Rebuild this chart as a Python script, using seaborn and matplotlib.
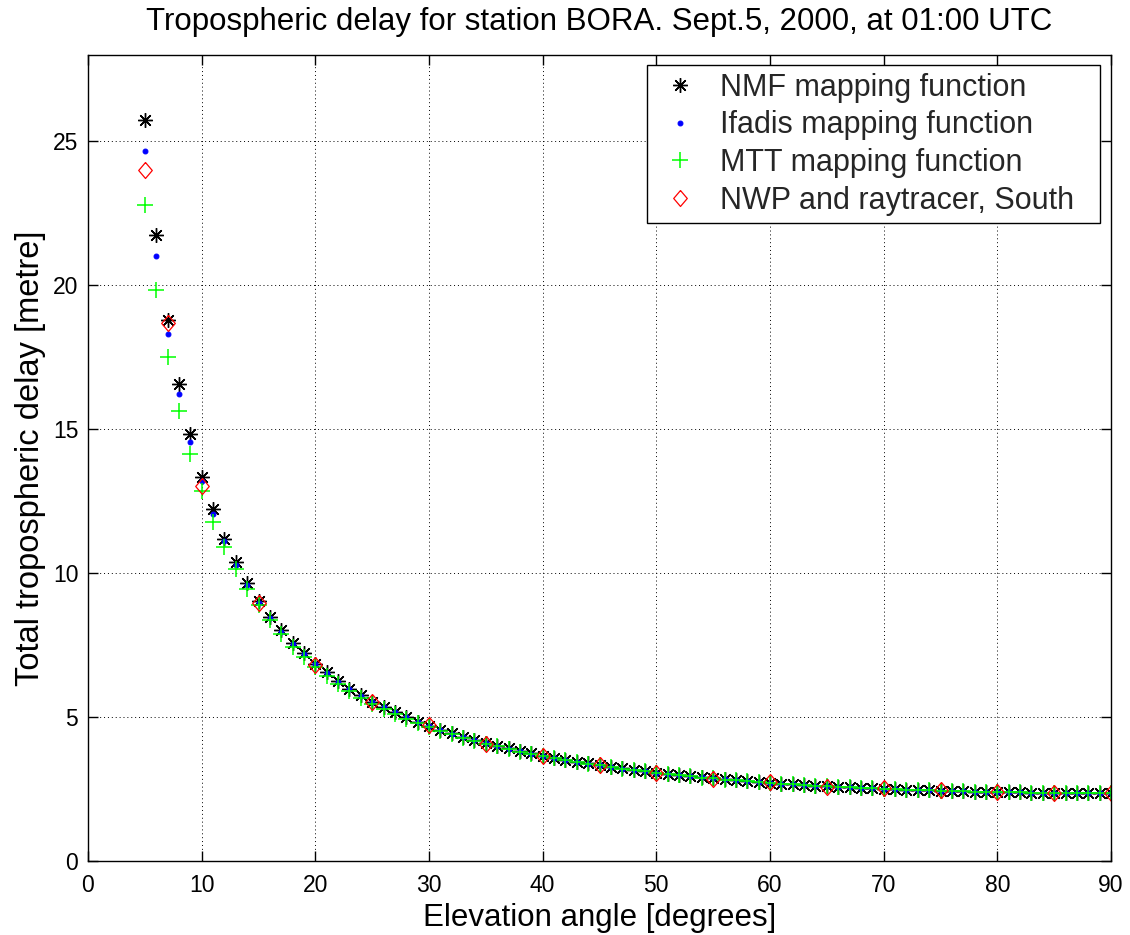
import matplotlib
matplotlib.use("Agg")
import matplotlib.pyplot as plt
import seaborn as sns
import pandas as pd

# ---------------- data ----------------
elevation = list(range(5, 91))

nmf_delay = [25.75, 21.74, 18.78, 16.56, 14.82, 13.34, 12.22, 11.19, 10.37, 9.66,
             9.03, 8.49, 8.01, 7.57, 7.21, 6.85, 6.55, 6.25, 5.99, 5.75,
             5.54, 5.35, 5.17, 5.00, 4.84, 4.70, 4.56, 4.43, 4.31, 4.20,
             4.10, 4.00, 3.91, 3.82, 3.74, 3.66, 3.59, 3.52, 3.45, 3.39,
             3.33, 3.27, 3.22, 3.17, 3.12, 3.07, 3.03, 2.99, 2.95, 2.91,
             2.87, 2.84, 2.81, 2.77, 2.75, 2.72, 2.69, 2.67, 2.64, 2.62,
             2.60, 2.58, 2.56, 2.54, 2.52, 2.51, 2.49, 2.48, 2.46, 2.45,
             2.44, 2.43, 2.42, 2.41, 2.40, 2.39, 2.38, 2.38, 2.37, 2.37,
             2.36, 2.36, 2.35, 2.35, 2.35, 2.35]

ifadis_delay = [24.65, 21.02, 18.32, 16.21, 14.54, 13.20, 12.06, 11.10, 10.30, 9.60,
                8.98, 8.45, 7.97, 7.54, 7.18, 6.83, 6.53, 6.23, 5.97, 5.74,
                5.53, 5.34, 5.16, 4.99, 4.83, 4.69, 4.55, 4.42, 4.30, 4.19,
                4.09, 3.99, 3.90, 3.81, 3.73, 3.65, 3.58, 3.51, 3.44, 3.38,
                3.32, 3.27, 3.21, 3.16, 3.11, 3.07, 3.02, 2.98, 2.94, 2.91,
                2.87, 2.84, 2.80, 2.77, 2.74, 2.72, 2.69, 2.66, 2.64, 2.62,
                2.60, 2.58, 2.56, 2.54, 2.52, 2.50, 2.49, 2.47, 2.46, 2.45,
                2.44, 2.43, 2.42, 2.41, 2.40, 2.39, 2.38, 2.38, 2.37, 2.37,
                2.36, 2.36, 2.35, 2.35, 2.35, 2.35]

mtt_delay = [22.78, 19.83, 17.51, 15.64, 14.14, 12.86, 11.77, 10.90, 10.15, 9.45,
             8.88, 8.36, 7.89, 7.43, 7.08, 6.73, 6.43, 6.15, 5.89, 5.66,
             5.45, 5.27, 5.10, 4.94, 4.79, 4.66, 4.52, 4.40, 4.28, 4.17,
             4.07, 3.98, 3.89, 3.80, 3.72, 3.64, 3.57, 3.50, 3.44, 3.37,
             3.32, 3.26, 3.21, 3.16, 3.11, 3.06, 3.02, 2.98, 2.94, 2.90,
             2.87, 2.83, 2.80, 2.77, 2.74, 2.71, 2.69, 2.66, 2.64, 2.62,
             2.59, 2.57, 2.56, 2.54, 2.52, 2.50, 2.49, 2.47, 2.46, 2.45,
             2.44, 2.43, 2.42, 2.41, 2.40, 2.39, 2.38, 2.38, 2.37, 2.36,
             2.36, 2.36, 2.35, 2.35, 2.35, 2.35]

nwp_elevation = [5, 7, 10, 15, 20, 25, 30, 35, 40, 45, 50, 55, 60, 65, 70, 75, 80, 85, 90]
nwp_delay = [23.99, 18.68, 13.04, 8.96, 6.80, 5.52, 4.72, 4.08, 3.65, 3.32,
             3.07, 2.86, 2.74, 2.58, 2.52, 2.45, 2.40, 2.37, 2.35]

series_labels = ["NMF mapping function", "Ifadis mapping function",
                 "MTT mapping function", "NWP and raytracer, South"]
x_ticks = [0, 10, 20, 30, 40, 50, 60, 70, 80, 90]
y_ticks = [0, 5, 10, 15, 20, 25]

title_text = "Tropospheric delay for station BORA. Sept.5, 2000, at 01:00 UTC"
x_label = "Elevation angle [degrees]"
y_label = "Total tropospheric delay [metre]"

# ---------------- style ----------------
sns.set_style("white")
plt.rcParams["font.family"] = ["Liberation Sans", "DejaVu Sans"]

W, H = 1130, 935
fig = plt.figure(figsize=(W / 100, H / 100), dpi=100)
fig.patch.set_facecolor("white")
ax = fig.add_axes([88 / W, (H - 861) / H, (1111 - 88) / W, (861 - 55) / H])

df_main = pd.DataFrame({"elev": elevation, "nmf": nmf_delay,
                        "ifadis": ifadis_delay, "mtt": mtt_delay})
df_nwp = pd.DataFrame({"elev": nwp_elevation, "nwp": nwp_delay})

diamond = [(0, 1), (0.85, 0), (0, -1), (-0.85, 0), (0, 1)]

common = dict(estimator=None, linestyle="", ax=ax, sort=False)

sns.lineplot(data=df_main, x="elev", y="nmf", marker=(8, 2, 0), markersize=10.5,
             markeredgewidth=1.0, color="black", markeredgecolor="black",
             label=series_labels[0], **common)
sns.lineplot(data=df_main, x="elev", y="ifadis", marker=".", markersize=7,
             color="#0000ff", markeredgecolor="#0000ff", markerfacecolor="#0000ff",
             label=series_labels[1], **common)
sns.lineplot(data=df_main, x="elev", y="mtt", marker="+", markersize=11,
             markeredgewidth=1.1, color="#00ff00", markeredgecolor="#00ff00",
             label=series_labels[2], **common)
sns.lineplot(data=df_nwp, x="elev", y="nwp", marker=diamond, markersize=11.5,
             markeredgewidth=0.9, color="#ff0000", markeredgecolor="#ff0000",
             markerfacecolor="none", label=series_labels[3], **common)

ax.set_xlim(0, 90)
ax.set_ylim(0, 28)
ax.set_xticks(x_ticks)
ax.set_yticks(y_ticks)
ax.set_xticklabels([str(t) for t in x_ticks])
ax.set_yticklabels([str(t) for t in y_ticks])

ax.grid(True, color="black", linestyle=(0, (1, 3)), linewidth=0.7)
ax.set_axisbelow(True)
for sp in ax.spines.values():
    sp.set_visible(True)
    sp.set_color("black")
    sp.set_linewidth(1.0)

ax.tick_params(axis="both", which="both", direction="in", length=7, width=1.0,
               top=True, right=True, bottom=True, left=True,
               labelsize=16.5, colors="black")
ax.tick_params(axis="x", pad=9)
ax.tick_params(axis="y", pad=7)

ax.set_title(title_text, fontsize=22.5, pad=18, color="black")
ax.set_xlabel(x_label, fontsize=22.5, labelpad=5, color="black")
ax.set_ylabel(y_label, fontsize=23.5, labelpad=5, color="black")

leg_h = 158
leg = ax.legend(loc="upper left",
                bbox_to_anchor=(647 / W, 1 - (65 + leg_h) / H, 453 / W, leg_h / H),
                bbox_transform=fig.transFigure, borderaxespad=0, mode="expand",
                fontsize=22, frameon=True, fancybox=False, framealpha=1,
                edgecolor="black", borderpad=0.25, labelspacing=0.25,
                handlelength=1.65, handletextpad=0.48)
leg.get_frame().set_linewidth(1.0)

fig.savefig("out.png", dpi=100, facecolor="white")
